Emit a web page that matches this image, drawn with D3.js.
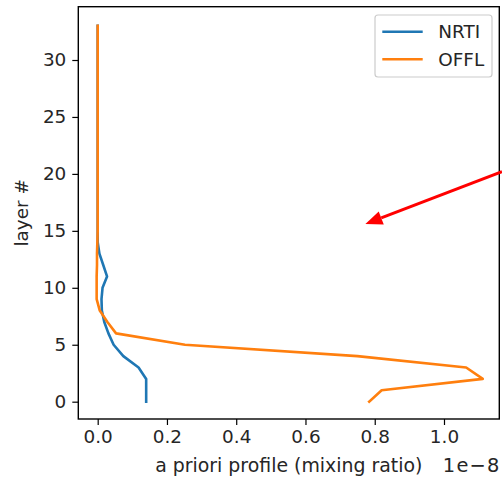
<!DOCTYPE html>
<html>
<head>
<meta charset="utf-8">
<script src="https://cdn.jsdelivr.net/npm/d3@7"></script>
<style>
  html, body { margin: 0; padding: 0; background: #ffffff; }
  svg { display: block; font-family: "DejaVu Sans", sans-serif; }
</style>
</head>
<body>
<svg id="chart" width="502" height="479"></svg>
<script>
// ---- data ----
const layers = [0,1,2,3,4,5,6,7,8,9,10,11,12,13,14,15,16,17,18,19,20,21,22,23,24,25,26,27,28,29,30,31,32,33];
const nrti = [0.140,0.140,0.140,0.118,0.074,0.046,0.031,0.019,0.012,0.011,0.014,0.027,0.016,0.005,0.000,0.000,0.000,0.000,0.000,0.000,0.000,0.000,0.000,0.000,0.000,0.000,0.000,0.000,0.000,0.000,0.000,0.000,0.000,0.000];
const offl = [0.784,0.820,1.112,1.064,0.750,0.252,0.053,0.028,0.006,-0.003,-0.003,-0.003,-0.002,-0.002,-0.001,0.000,0.000,0.000,0.000,0.000,0.000,0.000,0.000,0.000,0.000,0.000,0.000,0.000,0.000,0.000,0.000,0.000,0.000,0.000];
const seriesNames = ["NRTI", "OFFL"];
const seriesColors = ["#1f77b4", "#ff7f0e"];
const xTicks = [0.0, 0.2, 0.4, 0.6, 0.8, 1.0];
const yTicks = [0, 5, 10, 15, 20, 25, 30];
const xLabel = "a priori profile (mixing ratio)";
const yLabel = "layer #";
const xOffsetText = "1e\u22128";
const arrowFrom = [1.1675, 20.2];
const arrowTo = [0.773, 15.6];

// ---- layout ----
const pL = 78.3, pR = 499.3, pT = 6.7, pB = 419;
const svg = d3.select("#chart");
const x = d3.scaleLinear().domain([-0.056, 1.1597]).range([pL, pR]);
const y = d3.scaleLinear().domain([-1.52, 34.68]).range([pB, pT]);
const fs = 18.4;

// axes
const xAxis = d3.axisBottom(x).tickValues(xTicks).tickFormat(d3.format(".1f")).tickSize(6).tickPadding(5);
const yAxis = d3.axisLeft(y).tickValues(yTicks).tickFormat(d3.format("d")).tickSize(6).tickPadding(6);

const gx = svg.append("g").attr("transform", `translate(0,${pB})`).call(xAxis);
const gy = svg.append("g").attr("transform", `translate(${pL},0)`).call(yAxis);
[gx, gy].forEach(g => {
  g.select(".domain").remove();
  g.selectAll(".tick line").attr("stroke", "#000").attr("stroke-width", 1.2);
  g.selectAll(".tick text").attr("fill", "#262626").style("font-size", fs + "px").style("font-family", "DejaVu Sans");
});

// clip
svg.append("clipPath").attr("id", "clip").append("rect")
  .attr("x", pL).attr("y", pT).attr("width", pR - pL).attr("height", pB - pT);

const line = d3.line().x(d => x(d[0])).y(d => y(d[1]));
[nrti, offl].forEach((vals, i) => {
  svg.append("path")
    .datum(vals.map((v, j) => [v, layers[j]]))
    .attr("clip-path", "url(#clip)")
    .attr("fill", "none")
    .attr("stroke", seriesColors[i])
    .attr("stroke-width", 2.6)
    .attr("stroke-linejoin", "round")
    .attr("stroke-linecap", "square")
    .attr("d", line);
});

// frame
svg.append("rect").attr("x", pL).attr("y", pT).attr("width", pR - pL).attr("height", pB - pT)
  .attr("fill", "none").attr("stroke", "#000").attr("stroke-width", 1.4);

// labels
svg.append("text").attr("x", (pL + pR) / 2).attr("y", 472).attr("text-anchor", "middle")
  .style("font-size", (fs + 0.5) + "px").attr("fill", "#262626").text(xLabel);
svg.append("text").attr("x", pR + 1.2).attr("y", 472).attr("text-anchor", "end")
  .style("font-size", (fs + 1) + "px").style("letter-spacing", "1.2px").attr("fill", "#262626").text(xOffsetText);
svg.append("text").attr("transform", `translate(28,${(pT + pB) / 2}) rotate(-90)`).attr("text-anchor", "middle")
  .style("font-size", fs + "px").attr("fill", "#262626").text(yLabel);

// legend
const lg = svg.append("g");
lg.append("rect").attr("x", 375).attr("y", 15).attr("width", 117).attr("height", 62).attr("rx", 3)
  .attr("fill", "#fff").attr("fill-opacity", 0.8).attr("stroke", "#cccccc").attr("stroke-width", 1.2);
seriesNames.forEach((name, i) => {
  const yy = 31.7 + i * 27.6;
  lg.append("line").attr("x1", 382.3).attr("x2", 422.7).attr("y1", yy).attr("y2", yy)
    .attr("stroke", seriesColors[i]).attr("stroke-width", 2.6);
  lg.append("text").attr("x", 438.3).attr("y", yy + 6.6).style("font-size", fs + "px").attr("fill", "#262626").text(name);
});

// annotation arrow
const ax0 = x(arrowFrom[0]), ay0 = y(arrowFrom[1]), ax1 = x(arrowTo[0]), ay1 = y(arrowTo[1]);
const ang = Math.atan2(ay1 - ay0, ax1 - ax0);
const headL = 17, headW = 7;
const bx = ax1 - headL * Math.cos(ang), by = ay1 - headL * Math.sin(ang);
svg.append("line").attr("x1", ax0).attr("y1", ay0).attr("x2", bx).attr("y2", by)
  .attr("stroke", "#ff0000").attr("stroke-width", 3);
svg.append("path").attr("fill", "#ff0000").attr("d",
  `M${ax1},${ay1} L${bx + headW * Math.sin(ang)},${by - headW * Math.cos(ang)} L${bx - headW * Math.sin(ang)},${by + headW * Math.cos(ang)} Z`);
</script>
</body>
</html>
